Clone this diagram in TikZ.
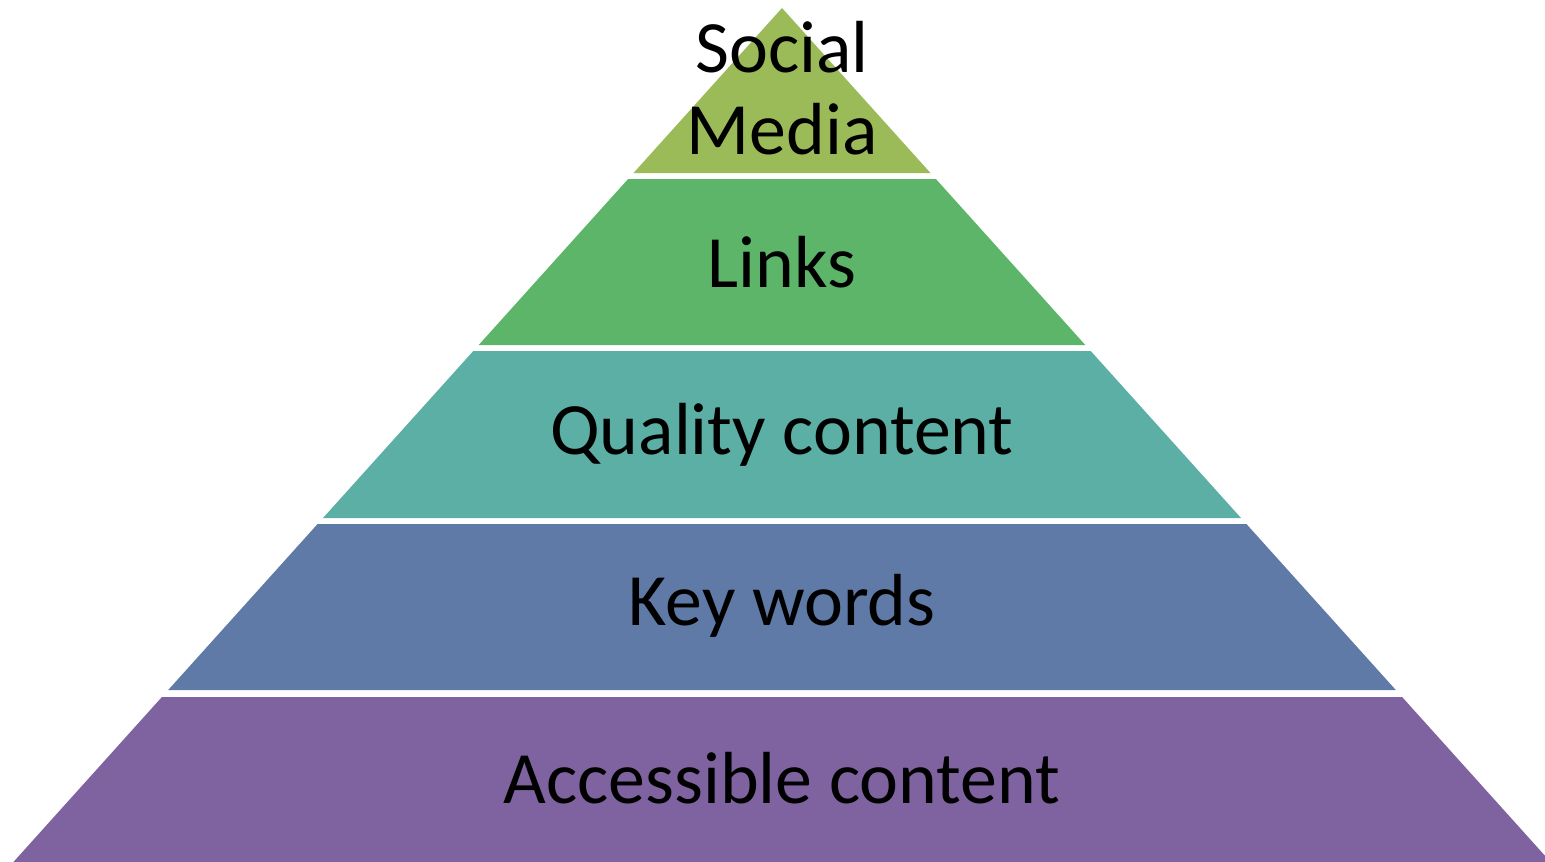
\documentclass[tikz,border=0pt]{standalone}
\usepackage{fontspec}
\setmainfont{Carlito}
\usepackage{tikz}
\usepackage{xcolor}

\definecolor{smgreen}{RGB}{155,187,89}
\definecolor{lkgreen}{RGB}{92,181,104}
\definecolor{qcteal}{RGB}{91,175,165}
\definecolor{kwblue}{RGB}{96,122,168}
\definecolor{acpurple}{RGB}{127,99,160}

\tikzset{
  layertext/.style={font=\fontsize{42}{47}\selectfont, text=black, align=center, inner sep=0pt}
}

\begin{document}
\begin{tikzpicture}[x=0.02cm, y=-0.02cm]
    \useasboundingbox (0,0) rectangle (1545,862);
    \clip (0,0) rectangle (1545,862);

    % Layer 1: Social Media
    \fill[smgreen] (782,8) -- (930.5,173) -- (633.5,173) -- cycle;
    \node[layertext] (social) at (782,88) {Social\\Media};

    % Layer 2: Links
    \fill[lkgreen] (628.1,179) -- (935.9,179) -- (1085.3,345) -- (478.7,345) -- cycle;
    \node[layertext] (links) at (782,262) {Links};

    % Layer 3: Quality content
    \fill[qcteal] (473.3,351) -- (1090.7,351) -- (1241,518) -- (323,518) -- cycle;
    \node[layertext] (quality) at (782,435) {Quality content};

    % Layer 4: Key words
    \fill[kwblue] (317.6,524) -- (1246.4,524) -- (1395.8,690) -- (168.2,690) -- cycle;
    \node[layertext] (keywords) at (782,606) {Key words};

    % Layer 5: Accessible content
    \fill[acpurple] (161.9,697) -- (1402.1,697) -- (1550.6,862) -- (13.4,862) -- cycle;
    \node[layertext] (access) at (782,778) {Accessible content};
\end{tikzpicture}
\end{document}
